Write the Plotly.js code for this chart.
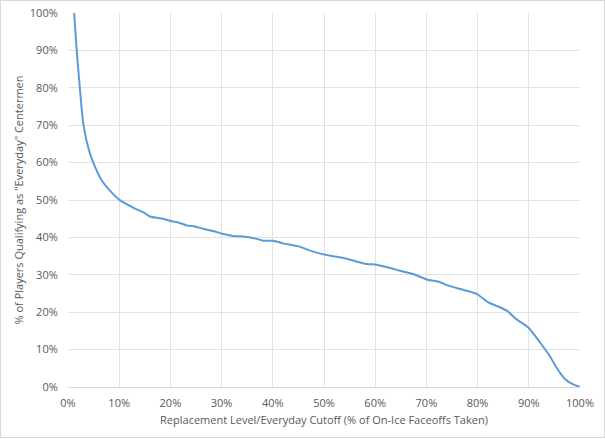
<!DOCTYPE html>
<html>
<head>
<meta charset="utf-8">
<script src="https://cdn.plot.ly/plotly-3.0.1.min.js"></script>
<style>
html,body{margin:0;padding:0;background:#fff;}
#chart{width:603px;height:436px;border:1px solid #d9d9d9;}
</style>
</head>
<body>
<div id="chart"></div>
<script>
const cutoffPct = [1.2,1.7,2.3,3.0,4.2,5.3,6.6,8.2,10,12.8,15,16,18.6,20.3,21.5,23.2,24.8,26.4,28.7,30.3,32.2,34.6,36.9,38.1,40.1,42,45,47.9,50.5,53.8,55.7,58.3,60.3,63.5,64.8,67.4,70.4,72.3,74.3,76.6,79.8,82.1,83.7,85.7,87.6,89.9,92.2,94.1,95.4,97.1,98.7,100];
const qualifyingPct = [100,90,80.2,70.2,62.8,58.8,55.2,52.5,50.1,47.9,46.5,45.6,45,44.3,44,43.2,42.9,42.3,41.6,40.9,40.4,40.2,39.6,39.1,39.1,38.4,37.6,36.2,35.3,34.5,33.8,32.9,32.7,31.6,31.1,30.2,28.6,28.2,27.1,26.2,24.9,22.6,21.7,20.4,18.1,15.9,11.9,8.3,5.2,2.1,0.7,0];
const xTitle = 'Replacement Level/Everyday Cutoff (% of On-Ice Faceoffs Taken)';
const yTitle = '% of Players Qualifying as "Everyday" Centermen';

const font = {family:'Open Sans, Liberation Sans, sans-serif', size:11, color:'#595959'};
Plotly.newPlot('chart', [{
  x: cutoffPct, y: qualifyingPct, type:'scatter', mode:'lines',
  line:{color:'#5b9bd5', width:2, shape:'spline', smoothing:0.6},
  hoverinfo:'skip'
}], {
  width:603, height:436,
  margin:{l:67, r:24, t:12, b:50},
  paper_bgcolor:'#fff', plot_bgcolor:'#fff',
  font: font,
  showlegend:false,
  xaxis:{range:[0,100], dtick:10, tick0:0, ticksuffix:'%', showgrid:true, gridcolor:'#e2e2e2', gridwidth:1,
    zeroline:false, showline:true, linecolor:'#dadada', ticks:'outside', ticklen:6, tickcolor:'rgba(0,0,0,0)', fixedrange:true,
    title:{text:xTitle, font:font, standoff:7}},
  yaxis:{range:[0,100], dtick:10, tick0:0, ticksuffix:'%', showgrid:true, gridcolor:'#e2e2e2', gridwidth:1,
    zeroline:false, showline:false, ticks:'outside', ticklen:7, tickcolor:'rgba(0,0,0,0)', fixedrange:true,
    title:{text:yTitle, font:font, standoff:3}}
}, {displayModeBar:false, staticPlot:true});
</script>
</body>
</html>
